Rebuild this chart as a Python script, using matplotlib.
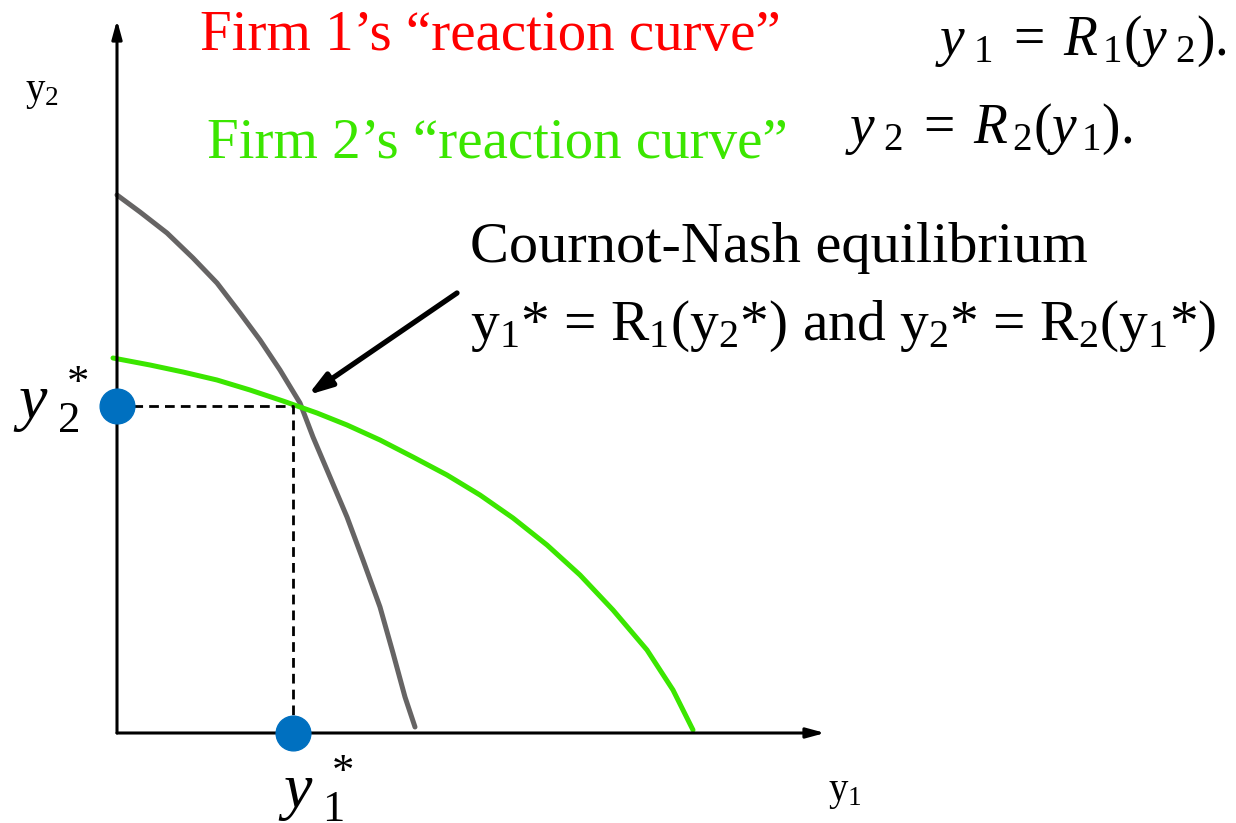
import matplotlib
matplotlib.use("Agg")
from matplotlib import pyplot as plt

plt.rcParams['font.family'] = ['Liberation Serif', 'DejaVu Serif']
plt.rcParams['mathtext.fontset'] = 'custom'
plt.rcParams['mathtext.rm'] = 'Liberation Serif'
plt.rcParams['mathtext.it'] = 'Liberation Serif:italic'

# curve points (units: px from the origin)
R1_Y1 = [0, 23, 50, 76, 100, 123, 143, 163, 183, 196, 213, 230, 246, 263, 276, 288, 298]
R1_Y2 = [538, 521, 500, 475, 450, 420, 393, 363, 330, 296, 256, 216, 173, 126, 80, 36, 6]
R2_Y1 = [-4, 33, 66, 100, 133, 166, 200, 230, 263, 296, 330, 363, 396, 430, 463, 496, 530, 556, 576]
R2_Y2 = [375, 368, 361, 353, 343, 332, 320, 308, 293, 276, 258, 238, 215, 188, 158, 123, 83, 43, 3]

EQ_Y1 = 176
EQ_Y2 = 327
X_END = 708
Y_END = 713

GREY = '#666464'
GREEN = '#3be600'
BLUE = '#0070c0'

fig = plt.figure(figsize=(12.36, 8.23), dpi=100)
ax = fig.add_axes([0, 0, 1, 1])
ax.set_xlim(-117, 1119)
ax.set_ylim(-90, 733)
ax.axis('off')

# axes with arrows
arrow = dict(arrowstyle='-|>,head_length=1.1,head_width=0.3', color='black', lw=2.2,
             shrinkA=0, shrinkB=0)
ax.annotate('', xy=(0, Y_END), xytext=(0, 0), arrowprops=arrow)
ax.annotate('', xy=(X_END, 0), xytext=(0, 0), arrowprops=arrow)

# reaction curves
ax.plot(R1_Y1, R1_Y2, color=GREY, lw=3.6, solid_capstyle='round', solid_joinstyle='round')
ax.plot(R2_Y1, R2_Y2, color=GREEN, lw=3.6, solid_capstyle='round', solid_joinstyle='round')

# dashed guides
ax.plot([0, EQ_Y1, EQ_Y1], [EQ_Y2, EQ_Y2, 0], color='black', lw=2, ls=(0, (3.5, 2.2)))

# equilibrium dots
ax.plot([0, EQ_Y1], [EQ_Y2, 0], 'o', color=BLUE, ms=25, clip_on=False, zorder=5)

# pointer arrow
ax.annotate('', xy=(191, 338), xytext=(340, 440),
            arrowprops=dict(arrowstyle='-|>,head_length=1.4,head_width=0.45',
                            color='black', lw=3.8, shrinkA=0, shrinkB=0))

# texts
ax.text(83, 683, 'Firm 1\u2019s \u201creaction curve\u201d', color='red', fontsize=41)
ax.text(90, 575, 'Firm 2\u2019s \u201creaction curve\u201d', color=GREEN, fontsize=41)
ax.text(818, 678, r'$y_{\ 1}\;=\;R_{\,1}(y_{\ 2}).$', fontsize=40)
ax.text(728, 590, r'$y_{\ 2}\;=\;R_{\,2}(y_{\,1}).$', fontsize=40)
ax.text(353, 471, 'Cournot-Nash equilibrium', fontsize=42)
ax.text(353, 393, r'y$_1$* = R$_1$(y$_2$*) and y$_2$* = R$_2$(y$_1$*)', fontsize=41.3)
ax.text(-92, 633, r'y$_2$', fontsize=28)
ax.text(711, -67, r'y$_1$', fontsize=28)
ax.text(-104, 315, r'$y_{\ 2}^{\ *}$', fontsize=46)
ax.text(161, -75, r'$y_{\ 1}^{\ *}$', fontsize=46)

fig.savefig('out.png', dpi=100)
